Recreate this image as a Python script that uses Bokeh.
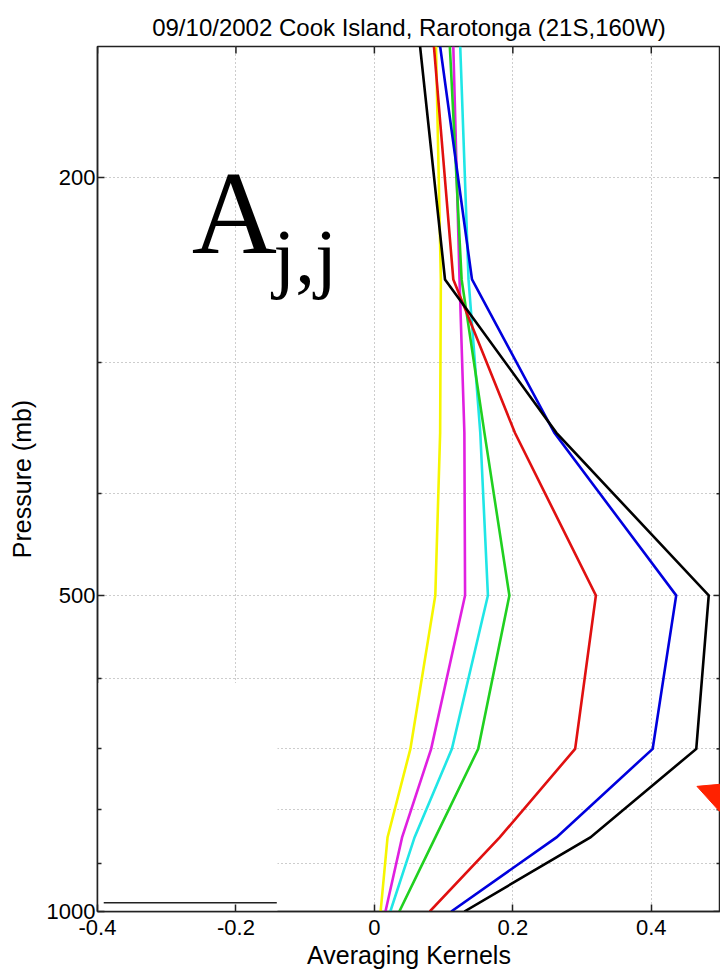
import math
from bokeh.plotting import figure
from bokeh.models import (Range1d, FixedTicker, Arrow, NormalHead, Label, NumeralTickFormatter)
from bokeh.embed import file_html
from bokeh.resources import INLINE

# ---- data ----
pressure = [1000, 850, 700, 500, 350, 250, 150]
ak_black   = [0.130, 0.312, 0.465, 0.483, 0.263, 0.102, 0.066]
ak_blue    = [0.111, 0.263, 0.402, 0.436, 0.260, 0.141, 0.095]
ak_red     = [0.080, 0.181, 0.290, 0.320, 0.203, 0.114, 0.086]
ak_green   = [0.036, 0.088, 0.150, 0.195, 0.159, 0.126, 0.109]
ak_cyan    = [0.023, 0.058, 0.112, 0.164, 0.153, 0.136, 0.124]
ak_magenta = [0.016, 0.040, 0.082, 0.131, 0.130, 0.123, 0.114]
ak_yellow  = [0.009, 0.019, 0.052, 0.088, 0.095, 0.096, 0.089]

x_ticks = [-0.4, -0.2, 0, 0.2, 0.4]
x_tick_labels = ["-0.4", "-0.2", "0", "0.2", "0.4"]
y_major_ticks = [200, 500, 1000]
y_minor_ticks = [300, 400, 600, 700, 800, 900]

X_MIN, X_MAX = -0.4, 0.5
P_BOTTOM, P_TOP = 1000, 150

# blanked-out box in the lower left and its stray line
box_x = [-0.4, -0.14]
box_p = [606, 1000]
stray_x = [-0.391, -0.141]
stray_p = [981, 981]

# red arrow (tip and start)
arrow_tip = (0.466, 760)
arrow_start = (0.60, 823)

series = [
    (ak_yellow, "#f6f600"),
    (ak_magenta, "#e020e0"),
    (ak_cyan, "#20e6e6"),
    (ak_green, "#20d020"),
    (ak_red, "#e01010"),
    (ak_blue, "#0000dd"),
    (ak_black, "#000000"),
]

FONT = "Liberation Sans"
AXC = "#222222"

p = figure(width=720, height=971, output_backend="svg", toolbar_location=None,
           x_range=Range1d(X_MIN, X_MAX), y_range=Range1d(P_BOTTOM, P_TOP),
           y_axis_type="log",
           min_border_left=97, min_border_right=0, min_border_top=46, min_border_bottom=60)

p.title.text = "09/10/2002 Cook Island, Rarotonga (21S,160W)"
p.title.text_font = FONT
p.title.text_font_size = "24px"
p.title.text_font_style = "normal"
p.title.text_color = "black"
p.title.align = "center"
p.title.vertical_align = "middle"
p.title.standoff = 10

p.outline_line_color = AXC
p.outline_line_width = 1.5
p.background_fill_color = "white"
p.border_fill_color = "white"

# grids
p.xgrid.ticker = FixedTicker(ticks=x_ticks[1:])
p.ygrid.ticker = FixedTicker(ticks=y_major_ticks[:2] + y_minor_ticks)
for g in (p.xgrid, p.ygrid):
    g.grid_line_color = "#9a9a9a"
    g.grid_line_dash = "1 3"
    g.grid_line_width = 1

# bottom axis
xa = p.xaxis[0]
xa.ticker = FixedTicker(ticks=x_ticks)
xa.major_label_overrides = {t: l for t, l in zip(x_ticks, x_tick_labels)}
xa.axis_label = "Averaging Kernels"
# left axis
ya = p.yaxis[0]
ya.ticker = FixedTicker(ticks=y_major_ticks, minor_ticks=y_minor_ticks)
ya.formatter = NumeralTickFormatter(format="0")
ya.axis_label = "Pressure (mb)"

for ax in (xa, ya):
    ax.major_tick_in = 7
    ax.major_tick_out = 0
    ax.minor_tick_in = 4
    ax.minor_tick_out = 0
    ax.axis_line_color = AXC
    ax.axis_line_width = 1.5
    ax.major_tick_line_color = AXC
    ax.major_tick_line_width = 1.5
    ax.minor_tick_line_color = AXC
    ax.minor_tick_line_width = 1.5
    ax.major_label_text_font = FONT
    ax.major_label_text_font_size = "22px"
    ax.major_label_text_color = "black"
    ax.axis_label_text_font = FONT
    ax.axis_label_text_font_size = "25px"
    ax.axis_label_text_font_style = "normal"
    ax.axis_label_text_color = "black"
xa.major_label_standoff = 8
xa.axis_label_standoff = 3
ya.major_label_standoff = 2
ya.axis_label_standoff = 8

# inward ticks on the top and right edges (box), clipped to the frame
p.scatter(x=x_ticks, y=[P_TOP] * len(x_ticks), marker="dash", angle=math.pi / 2,
          size=14, line_color=AXC, line_width=1.5)
p.scatter(x=[X_MAX] * len(y_major_ticks), y=y_major_ticks, marker="dash",
          size=14, line_color=AXC, line_width=1.5)
p.scatter(x=[X_MAX] * len(y_minor_ticks), y=y_minor_ticks, marker="dash",
          size=8, line_color=AXC, line_width=1.5)

# kernels
for vals, col in series:
    p.line(vals, pressure, line_color=col, line_width=2.6, line_join="miter")

# white box hiding the lower-left part
p.quad(left=box_x[0], right=box_x[1], bottom=box_p[1], top=box_p[0],
       fill_color="white", line_color=None)
p.line(stray_x, stray_p, line_color=AXC, line_width=1.5)

# A_{j,j} annotation
p.add_layout(Label(x=-0.264, y=216.3, text="A", text_font="Liberation Serif",
                   text_font_size="118px", text_baseline="alphabetic", text_align="left",
                   text_color="black"))
p.add_layout(Label(x=-0.146, y=237.5, text="j,j", text_font="Liberation Serif",
                   text_font_size="79px", text_baseline="alphabetic", text_align="left",
                   text_color="black"))

# red arrow
p.add_layout(Arrow(end=NormalHead(size=30, fill_color="#ff2200", line_color="#ff2200"),
                   x_start=arrow_start[0], y_start=arrow_start[1],
                   x_end=arrow_tip[0], y_end=arrow_tip[1],
                   line_color="#ff2200", line_width=8))

open("out.html", "w").write(file_html(p, INLINE))
